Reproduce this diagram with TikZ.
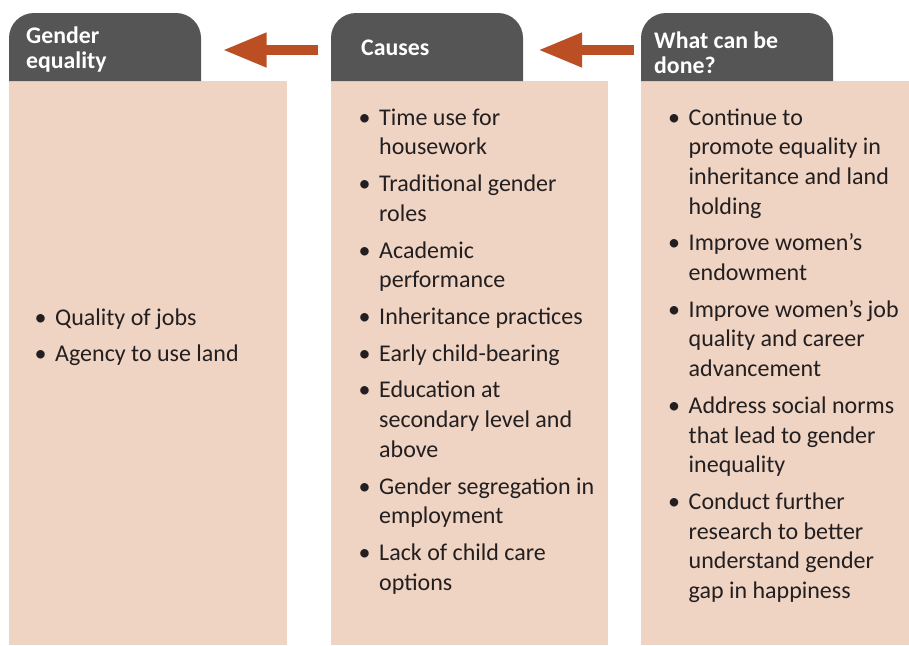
\documentclass[tikz,border=0pt]{standalone}
\usepackage{fontspec}
\setmainfont{Carlito}
\usetikzlibrary{arrows.meta}
\definecolor{hdr}{HTML}{545554}
\definecolor{bodyc}{HTML}{EFD3C3}
\definecolor{arr}{HTML}{BB4E23}
\definecolor{txt}{HTML}{231F20}
\newcommand{\lines}[1]{\begin{tabular}[t]{@{}l@{}}#1\end{tabular}}
\tikzset{
  hdrtext/.style={anchor=base west, inner sep=0pt, text=white, font=\fontsize{23.8}{25}\selectfont\bfseries},
  item/.style={anchor=base west, inner sep=0pt, text=txt, font=\fontsize{24}{29.7}\selectfont},
  bul/.style={anchor=base west, inner sep=0pt, text=txt, font=\fontsize{24}{29.7}\selectfont},
  bigarrow/.style={draw=arr, line width=10pt, -{Triangle[length=44pt,width=32pt]}},
}
\begin{document}
\begin{tikzpicture}[x=1pt,y=-1pt]
\useasboundingbox (0,0) rectangle (909,645);
% bodies
\fill[bodyc] (9,81) rectangle (287,645);
\fill[bodyc] (331,81) rectangle (608,645);
\fill[bodyc] (641,81) rectangle (909,645);
% headers
\fill[hdr] (9,81) -- (9,38) arc[start angle=180,end angle=270,radius=25] -- (176,13) arc[start angle=270,end angle=360,radius=25] -- (201,81) -- cycle;
\fill[hdr] (331,81) -- (331,38) arc[start angle=180,end angle=270,radius=25] -- (498,13) arc[start angle=270,end angle=360,radius=25] -- (523,81) -- cycle;
\fill[hdr] (641,81) -- (641,38) arc[start angle=180,end angle=270,radius=25] -- (808,13) arc[start angle=270,end angle=360,radius=25] -- (833,81) -- cycle;
\node[hdrtext] (h1) at (26,43) {\lines{Gender\\equality}};
\node[hdrtext] (h2) at (361,55) {Causes};
\node[hdrtext] (h3) at (654,48) {\lines{What can be\\done?}};
% arrows
\coordinate (a1s) at (318,50);
\coordinate (a1e) at (222.5,50);
\coordinate (a2s) at (634,50);
\coordinate (a2e) at (538,50);
\draw[bigarrow] (a1s) -- (a1e);
\draw[bigarrow] (a2s) -- (a2e);
% column 1
\foreach \y/\t [count=\i] in {325/Quality of jobs, 361.7/Agency to use land}{
  \node[bul] (b1\i) at (34.5,\y) {•};
  \node[item] (l1\i) at (55,\y) {\t};
}
% column 2
\foreach \y/\t [count=\i] in {
  125/{Time use for\\housework},
  191.7/{Traditional gender\\roles},
  258.1/{Academic\\performance},
  324.5/{Inheritance practices},
  361.2/{Early child-bearing},
  397.9/{Education at\\secondary level and\\above},
  494/{Gender segregation in\\employment},
  560.4/{Lack of child care\\options}}{
  \node[bul] (b2\i) at (358.5,\y) {•};
  \node[item] (l2\i) at (379,\y) {\lines{\t}};
}
% column 3
\foreach \y/\t [count=\i] in {
  125/{Continue to\\promote equality in\\inheritance and land\\holding},
  250.8/{Improve women’s\\endowment},
  317.2/{Improve women’s job\\quality and career\\advancement},
  413.3/{Address social norms\\that lead to gender\\inequality},
  509.4/{Conduct further\\research to better\\understand gender\\gap in happiness}}{
  \node[bul] (b3\i) at (668,\y) {•};
  \node[item] (l3\i) at (688.5,\y) {\lines{\t}};
}
\end{tikzpicture}
\end{document}
